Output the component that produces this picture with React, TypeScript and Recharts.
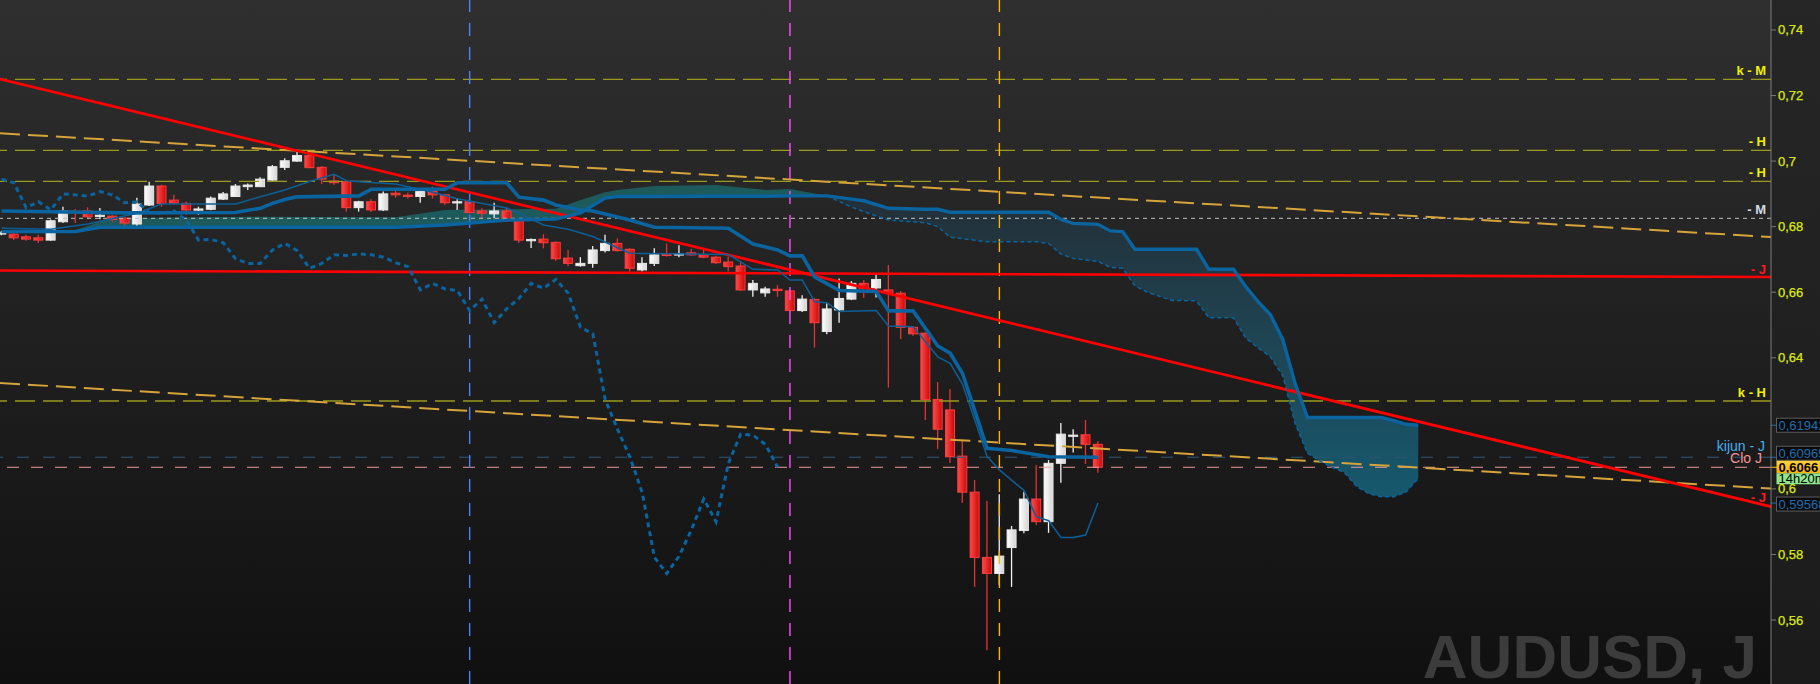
import React from 'react';
import { ComposedChart, XAxis, YAxis, Bar, Line, Area, ReferenceLine } from 'recharts';

const W = 1820;
const H = 684;
const AXIS_W = 49;
const X_DOMAIN: [number, number] = [-0.1218, 143.63];
const Y_DOMAIN: [number, number] = [0.540476, 0.749152];
const FONT = '"Liberation Sans", Arial, sans-serif';

// ---- daily candles (AUDUSD, J) ----
const opens = [
  0.6780, 0.6777, 0.6769, 0.6766, 0.6759, 0.6815, 0.6847, 0.6848, 0.6832, 0.6832,
  0.6826, 0.6808, 0.6866, 0.6924, 0.6881, 0.6871, 0.6851, 0.6853, 0.6884, 0.6892,
  0.6922, 0.6922, 0.6942, 0.6981, 0.7000, 0.7017, 0.6981, 0.6939, 0.6937, 0.6858,
  0.6876, 0.6851, 0.6902, 0.6896, 0.6892, 0.6907, 0.6897, 0.6874, 0.6876, 0.6848,
  0.6839, 0.6848, 0.6817, 0.6757, 0.6762, 0.6752, 0.6704, 0.6681, 0.6688, 0.6727,
  0.6749, 0.6731, 0.6668, 0.6688, 0.6716, 0.6714, 0.6720, 0.6714, 0.6707, 0.6692,
  0.6680, 0.6607, 0.6598, 0.6609, 0.6604, 0.6544, 0.6578, 0.6480, 0.6546, 0.6579,
  0.6627, 0.6613, 0.6607, 0.6597, 0.6493, 0.6475, 0.6273, 0.6241, 0.6100, 0.5990,
  0.5791, 0.5742, 0.5821, 0.5873, 0.5969, 0.5900, 0.6078, 0.6161, 0.6165, 0.6136,
];
const highs = [
  0.6787, 0.6790, 0.6775, 0.6775, 0.6822, 0.6861, 0.6854, 0.6859, 0.6857, 0.6835,
  0.6829, 0.6888, 0.6937, 0.6928, 0.6897, 0.6876, 0.6861, 0.6892, 0.6906, 0.6930,
  0.6932, 0.6951, 0.6988, 0.7009, 0.7029, 0.7024, 0.6985, 0.6958, 0.6940, 0.6879,
  0.6884, 0.6907, 0.6912, 0.6904, 0.6912, 0.6922, 0.6900, 0.6887, 0.6878, 0.6856,
  0.6873, 0.6857, 0.6820, 0.6764, 0.6777, 0.6755, 0.6729, 0.6707, 0.6741, 0.6775,
  0.6764, 0.6734, 0.6707, 0.6734, 0.6749, 0.6743, 0.6732, 0.6729, 0.6711, 0.6709,
  0.6693, 0.6637, 0.6617, 0.6622, 0.6608, 0.6591, 0.6582, 0.6566, 0.6642, 0.6634,
  0.6637, 0.6653, 0.6683, 0.6604, 0.6495, 0.6477, 0.6326, 0.6305, 0.6149, 0.6027,
  0.5963, 0.5984, 0.5887, 0.5991, 0.6073, 0.6088, 0.6201, 0.6182, 0.6210, 0.6146,
];
const lows = [
  0.6774, 0.6759, 0.6757, 0.6750, 0.6757, 0.6811, 0.6811, 0.6826, 0.6823, 0.6815,
  0.6803, 0.6802, 0.6863, 0.6861, 0.6866, 0.6836, 0.6836, 0.6850, 0.6881, 0.6891,
  0.6912, 0.6921, 0.6939, 0.6973, 0.6998, 0.6978, 0.6930, 0.6927, 0.6846, 0.6846,
  0.6845, 0.6848, 0.6888, 0.6885, 0.6873, 0.6886, 0.6866, 0.6851, 0.6840, 0.6826,
  0.6826, 0.6814, 0.6750, 0.6735, 0.6734, 0.6696, 0.6679, 0.6678, 0.6675, 0.6721,
  0.6724, 0.6663, 0.6663, 0.6680, 0.6708, 0.6707, 0.6711, 0.6704, 0.6686, 0.6663,
  0.6604, 0.6586, 0.6586, 0.6586, 0.6541, 0.6540, 0.6431, 0.6472, 0.6507, 0.6576,
  0.6582, 0.6584, 0.6309, 0.6457, 0.6467, 0.6210, 0.6122, 0.6079, 0.5957, 0.5701,
  0.5508, 0.5707, 0.5701, 0.5865, 0.5890, 0.5866, 0.6019, 0.6111, 0.6076, 0.6049,
];
const closes = [
  0.6781, 0.6766, 0.6762, 0.6759, 0.6818, 0.6848, 0.6843, 0.6830, 0.6835, 0.6822,
  0.6811, 0.6869, 0.6924, 0.6871, 0.6872, 0.6851, 0.6854, 0.6887, 0.6900, 0.6924,
  0.6927, 0.6945, 0.6983, 0.7001, 0.7017, 0.6980, 0.6945, 0.6934, 0.6858, 0.6876,
  0.6851, 0.6900, 0.6897, 0.6893, 0.6907, 0.6897, 0.6873, 0.6876, 0.6843, 0.6841,
  0.6848, 0.6820, 0.6759, 0.6761, 0.6751, 0.6702, 0.6688, 0.6688, 0.6729, 0.6749,
  0.6727, 0.6673, 0.6688, 0.6714, 0.6712, 0.6717, 0.6714, 0.6707, 0.6690, 0.6678,
  0.6607, 0.6627, 0.6610, 0.6605, 0.6544, 0.6579, 0.6507, 0.6549, 0.6581, 0.6627,
  0.6612, 0.6639, 0.6597, 0.6493, 0.6473, 0.6273, 0.6182, 0.6098, 0.5990, 0.5791,
  0.5742, 0.5795, 0.5875, 0.5969, 0.5900, 0.6078, 0.6167, 0.6164, 0.6136, 0.6066,
];

// ---- Ichimoku (read at the line's vertices) ----
const tenkanPts: [number, number][] = [
  [0, 0.6795], [4, 0.6792], [7, 0.6808], [11, 0.6841], [13, 0.6869], [19, 0.6869],
  [21, 0.6891], [23, 0.6912], [25, 0.6938], [27, 0.6960], [28, 0.6940], [29, 0.6937],
  [32, 0.6930], [35, 0.6905], [37, 0.6885], [41, 0.6857], [42, 0.6842], [44, 0.6805],
  [46, 0.6792], [48, 0.6770], [51, 0.6719], [59, 0.6715], [61, 0.6670], [63, 0.6668],
  [64, 0.6637], [65, 0.6637], [66, 0.6571], [67, 0.6568], [68, 0.6541], [71, 0.6544],
  [72, 0.6497], [74, 0.6495], [76, 0.6403], [77, 0.6383], [78, 0.6320], [79, 0.6210],
  [80, 0.6099], [81, 0.6058], [83, 0.5995], [84, 0.5915], [85, 0.5903], [86, 0.5852],
  [87, 0.5852], [88, 0.5859], [89, 0.59568],
];
const kijunPts: [number, number][] = [
  [0, 0.6848], [10, 0.6842], [19, 0.6843], [20, 0.6850], [21, 0.6856], [22, 0.6871],
  [23, 0.6883], [24, 0.6891], [29, 0.6894], [30, 0.6914], [36, 0.6914], [37, 0.6934],
  [41, 0.6934], [42, 0.6890], [44, 0.6881], [45, 0.6866], [47, 0.6851], [48, 0.6848],
  [51, 0.6820], [53, 0.6798], [59, 0.6795], [61, 0.6747], [63, 0.6729], [64, 0.6711],
  [65, 0.6711], [66, 0.6647], [68, 0.6605], [71, 0.6602], [72, 0.6543], [74, 0.6543],
  [76, 0.6436], [77, 0.6414], [78, 0.6353], [80, 0.6124], [82, 0.6117], [85, 0.6098],
  [89, 0.60965],
];
const cloudIdx = [
  0, 6, 8, 9, 20, 32, 36, 41, 45, 47, 49, 50, 53, 58, 62, 64, 67, 69, 70, 72,
  75, 76, 77, 80, 84, 85, 86, 87, 89, 90, 91, 92, 93, 95, 97, 98, 100, 101, 102, 103,
  104, 105, 106, 107, 108, 109, 110, 111, 112, 113, 114, 115,
];
const senkouA = [
  0.6788, 0.6790, 0.6815, 0.6826, 0.6830, 0.6829, 0.6851, 0.6853, 0.6855, 0.6881,
  0.6905, 0.6912, 0.6924, 0.6927, 0.6912, 0.6915, 0.6894, 0.6860, 0.6846, 0.6820,
  0.6812, 0.6800, 0.6768, 0.6754, 0.6754, 0.6749, 0.6716, 0.6703, 0.6694, 0.6676,
  0.6673, 0.6620, 0.6600, 0.6575, 0.6574, 0.6522, 0.6522, 0.6460, 0.6430, 0.6403,
  0.6345, 0.6200, 0.6109, 0.6085, 0.6066, 0.6050, 0.6007, 0.5985, 0.5976, 0.5976,
  0.5990, 0.6032,
];
const senkouB = [
  0.6785, 0.6785, 0.6798, 0.6798, 0.6798, 0.6798, 0.6805, 0.6820, 0.6823, 0.6842,
  0.6887, 0.6892, 0.6892, 0.6893, 0.6893, 0.6894, 0.6894, 0.6884, 0.6879, 0.6856,
  0.6853, 0.6853, 0.6844, 0.6844, 0.6844, 0.6844, 0.6822, 0.6810, 0.6807, 0.6787,
  0.6785, 0.6731, 0.6731, 0.6731, 0.6731, 0.6670, 0.6670, 0.6617, 0.6571, 0.6531,
  0.6456, 0.6322, 0.6218, 0.6218, 0.6218, 0.6218, 0.6218, 0.6218, 0.6218, 0.6208,
  0.6197, 0.61942,
];
const CHIKOU_SHIFT = 26;
const CLOUD_CROSS = 67;

// ---- levels & drawn lines ----
const yellowLevels = [0.72496, 0.7033, 0.69384, 0.62682];
const yellowLabels = ['k - M', '- H', '- H', 'k - H'];
const greyLevel = 0.68255;
const greyLabel = '- M';
const redTrend = [0.72505, 0.59457];
const redFlat = [0.66663, 0.66465];
const orangeUpper = [0.70849, 0.67685];
const orangeLower = [0.6323, 0.60009];
const vLines = [38, 64, 81];
const vColors = ['#4d7fff', '#ff4dff', '#ffb400'];
const priceTicks = [0.56, 0.58, 0.6, 0.64, 0.66, 0.68, 0.7, 0.72, 0.74];
const countdown = '14h20m';
const watermark = 'AUDUSD, J';

const fmt = (v: number, d?: number) =>
  (d == null ? String(Number(v.toFixed(2))) : v.toFixed(d)).replace('.', ',');

// ---- table ----
const N = opens.length;
const LAST = N - 1 + CHIKOU_SHIFT;
const rows: any[] = [];
for (let i = 0; i <= LAST; i++) {
  const r: any = { i };
  if (i < N) {
    r.o = opens[i]; r.h = highs[i]; r.l = lows[i]; r.c = closes[i];
    r.range = [lows[i], highs[i]];
  }
  if (i + CHIKOU_SHIFT < N) r.chikou = closes[i + CHIKOU_SHIFT];
  rows.push(r);
}
tenkanPts.forEach(([i, v]) => { rows[i].tenkan = v; });
kijunPts.forEach(([i, v]) => { rows[i].kijun = v; });
cloudIdx.forEach((i, k) => {
  const a = senkouA[k];
  const b = senkouB[k];
  rows[i].spanB = b;
  if (i <= CLOUD_CROSS) rows[i].bull = [b, a];
  if (i >= CLOUD_CROSS) { rows[i].bear = [a, b]; rows[i].spanA = a; }
});
const lastTenkan = tenkanPts[tenkanPts.length - 1][1];
const lastKijun = kijunPts[kijunPts.length - 1][1];
const lastSpanB = senkouB[senkouB.length - 1];
const lastClose = closes[N - 1];

// ---- marks ----
const Candle = (props: any) => {
  const { x, y, width, height, payload } = props;
  if (!payload || payload.o == null || x == null) return null;
  const { o, h, l, c } = payload;
  let top = y;
  let hh = height;
  if (hh < 0) { top = y + hh; hh = -hh; }
  const k = hh / (h - l);
  const py = (v: number) => top + (h - v) * k;
  const cx = x + width / 2;
  const up = c >= o;
  const yO = py(o);
  const yC = py(c);
  const bt = Math.min(yO, yC);
  const bh = Math.max(Math.abs(yO - yC), 1.2);
  return (
    <g>
      <line x1={cx} x2={cx} y1={top} y2={top + hh} stroke={up ? '#f2f2f2' : '#e63232'} strokeWidth={1.3} />
      <rect x={cx - 4.5} y={bt} width={9} height={bh}
        fill={up ? 'url(#candleUp)' : 'url(#candleDown)'}
        stroke={up ? '#e8e8e8' : '#ff3c3c'} strokeWidth={1} />
    </g>
  );
};

const EndLabel = (props: any) => {
  const vb = props.viewBox;
  if (!vb) return null;
  const x = vb.x + vb.width - (props.dx ?? 5);
  const y = vb.y + (props.atBottom ? vb.height || 0 : 0) - (props.up ?? 4);
  return (
    <text x={x} y={y} textAnchor="end" fill={props.color} fontSize={props.size ?? 13}
      fontWeight={props.bold === false ? 'normal' : 'bold'} fontFamily={FONT}>
      {props.text}
    </text>
  );
};

const AxisBox = (props: any) => {
  const vb = props.viewBox;
  if (!vb) return null;
  const x0 = vb.x + vb.width;
  const cy = vb.y + (props.shift ?? 0);
  if (props.kind === 'gold') {
    return (
      <g>
        <line x1={x0} x2={x0 + 6} y1={vb.y} y2={vb.y} stroke="#ffc000" />
        <rect x={x0 + 5.5} y={cy - 6.5} width={60} height={12.5} fill="url(#goldBox)" />
        <text x={x0 + 7.5} y={cy + 4.5} fill="#000" fontSize={13} fontWeight="bold" fontFamily={FONT}>{props.text}</text>
        <rect x={x0 + 5.5} y={cy + 6} width={60} height={11} fill="#8fe68f" />
        <text x={x0 + 7.5} y={cy + 15.5} fill="#000" fontSize={13} fontFamily={FONT}>{props.extra}</text>
      </g>
    );
  }
  return (
    <g>
      <line x1={x0} x2={x0 + 6} y1={vb.y} y2={vb.y} stroke="#1f6db0" />
      <rect x={x0 + 5.5} y={cy - 7} width={60} height={14} fill="#0b0b0b" stroke="#5c5c5c" />
      <text x={x0 + 7.5} y={cy + 4.5} fill="#1f6db0" fontSize={13} fontFamily={FONT}>{props.text}</text>
    </g>
  );
};

const PriceTick = (props: any) => {
  const { x, y, payload } = props;
  return (
    <text x={x} y={y + 4.5} fill="#f0f000" fontSize={13} fontFamily={FONT} textAnchor="start"
      stroke="#b8e020" strokeWidth={0.25}>
      {fmt(payload.value)}
    </text>
  );
};

export default function App() {
  const [x0, x1] = X_DOMAIN;
  return (
    <div style={{ position: 'absolute', left: 0, top: 0, width: W, height: H, overflow: 'hidden',
      background: 'linear-gradient(#2f2f2f, #101010)' }}>
      <div style={{ position: 'absolute', left: W - AXIS_W, top: 0, width: AXIS_W, height: H,
        background: 'linear-gradient(#262626, #1b1b1b)' }} />
      <svg width={W} height={H} style={{ position: 'absolute', left: 0, top: 0 }}>
        <text x={1757} y={678} textAnchor="end" fill="#3c3c3c" fontSize={62} fontWeight="bold"
          fontFamily={FONT}>{watermark}</text>
      </svg>
      <div style={{ position: 'absolute', left: 0, top: 0 }}>
        <ComposedChart width={W} height={H} data={rows} margin={{ top: 0, right: 0, bottom: 0, left: 0 }}>
          <defs>
            <linearGradient id="candleUp" x1="0" y1="0" x2="1" y2="0">
              <stop offset="0%" stopColor="#ffffff" />
              <stop offset="100%" stopColor="#d4d4d4" />
            </linearGradient>
            <linearGradient id="candleDown" x1="0" y1="0" x2="1" y2="0">
              <stop offset="0%" stopColor="#ff4a4a" />
              <stop offset="100%" stopColor="#c80a0a" />
            </linearGradient>
            <linearGradient id="bearCloud" gradientUnits="userSpaceOnUse" x1="0" y1="195" x2="0" y2="495">
              <stop offset="0%" stopColor="#232f37" />
              <stop offset="45%" stopColor="#1f4351" />
              <stop offset="100%" stopColor="#16586d" />
            </linearGradient>
            <linearGradient id="goldBox" x1="0" y1="0" x2="0" y2="1">
              <stop offset="0%" stopColor="#ffd23c" />
              <stop offset="100%" stopColor="#ffb000" />
            </linearGradient>
          </defs>
          <XAxis type="number" dataKey="i" domain={X_DOMAIN} allowDataOverflow hide />
          <YAxis orientation="right" type="number" domain={Y_DOMAIN} allowDataOverflow ticks={priceTicks}
            interval={0} width={AXIS_W} tickSize={5} tickMargin={2}
            axisLine={{ stroke: '#7a7a7a' }} tickLine={{ stroke: '#7a7a7a' }} tick={<PriceTick />} />

          <Area dataKey="bull" type="linear" stroke="none" fill="#1d5a5c" fillOpacity={1}
            connectNulls isAnimationActive={false} activeDot={false} />
          <Area dataKey="bear" type="linear" stroke="none" fill="url(#bearCloud)" fillOpacity={1}
            connectNulls isAnimationActive={false} activeDot={false} />

          {yellowLevels.map((v, k) => (
            <ReferenceLine key={'yl' + k} y={v} stroke="#9a9a1e" strokeWidth={1.3} strokeDasharray="20 8"
              label={<EndLabel text={yellowLabels[k]} color="#f0f000" />} />
          ))}
          <ReferenceLine y={greyLevel} stroke="#c4c4c4" strokeWidth={1} strokeDasharray="4 4"
            label={<EndLabel text={greyLabel} color="#d2dbe2" />} />
          <ReferenceLine y={lastKijun} stroke="#2c5878" strokeWidth={1} strokeDasharray="12 14"
            label={<EndLabel text="kijun - J" color="#45aef0" bold={false} size={14} dx={6} up={6} />} />
          <ReferenceLine y={lastClose} stroke="#f09a9a" strokeWidth={1.2} strokeDasharray="12 12"
            label={<EndLabel text="Clo J" color="#f29494" bold={false} size={14} dx={9} up={4} />} />

          {vLines.map((v, k) => (
            <ReferenceLine key={'vl' + k} x={v} stroke={vColors[k]} strokeWidth={1.4} strokeDasharray="13 11" />
          ))}

          <Bar dataKey="range" barSize={10} shape={(p: any) => <Candle {...p} />} isAnimationActive={false} />

          <ReferenceLine segment={[{ x: x0, y: orangeUpper[0] }, { x: x1, y: orangeUpper[1] }]}
            stroke="#d6a43a" strokeWidth={2} strokeDasharray="20 8" />
          <ReferenceLine segment={[{ x: x0, y: orangeLower[0] }, { x: x1, y: orangeLower[1] }]}
            stroke="#d6a43a" strokeWidth={2} strokeDasharray="20 8" />
          <ReferenceLine segment={[{ x: x0, y: redFlat[0] }, { x: x1, y: redFlat[1] }]}
            stroke="#ff0000" strokeWidth={2.6}
            label={<EndLabel text="- J" color="#ff1a1a" atBottom up={3} />} />
          <ReferenceLine segment={[{ x: x0, y: redTrend[0] }, { x: x1, y: redTrend[1] }]}
            stroke="#ff0000" strokeWidth={2.8}
            label={<EndLabel text="- J" color="#ff1a1a" atBottom up={5} />} />

          <Line dataKey="spanB" type="linear" stroke="#0a64a0" strokeWidth={3.4} dot={false} activeDot={false}
            connectNulls isAnimationActive={false} />
          <Line dataKey="spanA" type="linear" stroke="#0a64a0" strokeWidth={1.5} strokeDasharray="4 3" dot={false}
            activeDot={false} connectNulls isAnimationActive={false} />
          <Line dataKey="chikou" type="linear" stroke="#0a64a0" strokeWidth={3} strokeDasharray="5 4" dot={false}
            activeDot={false} connectNulls isAnimationActive={false} />
          <Line dataKey="tenkan" type="linear" stroke="#0d5f98" strokeWidth={1.5} dot={false} activeDot={false}
            connectNulls isAnimationActive={false} />
          <Line dataKey="kijun" type="linear" stroke="#0a64a0" strokeWidth={3.6} dot={false} activeDot={false}
            connectNulls isAnimationActive={false} />

          <ReferenceLine y={lastSpanB} stroke="none" label={<AxisBox text={fmt(lastSpanB, 5)} />} />
          <ReferenceLine y={lastKijun} stroke="none" label={<AxisBox text={fmt(lastKijun, 5)} shift={-4} />} />
          <ReferenceLine y={lastTenkan} stroke="none" label={<AxisBox text={fmt(lastTenkan, 5)} shift={1} />} />
          <ReferenceLine y={lastClose} stroke="none"
            label={<AxisBox kind="gold" text={fmt(lastClose, 4)} extra={countdown} />} />
        </ComposedChart>
      </div>
    </div>
  );
}
